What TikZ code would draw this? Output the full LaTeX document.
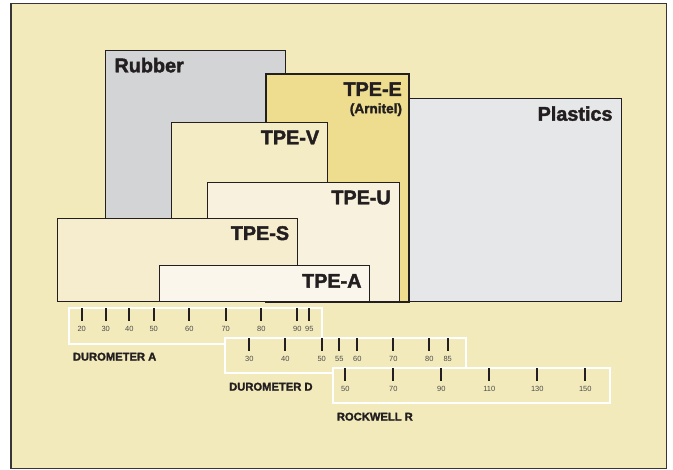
\documentclass[tikz,border=0pt]{standalone}
\usepackage{fontspec}
\setmainfont{Liberation Sans}
\newfontfamily\heavyfont{Liberation Sans Bold}[FakeBold=2]
\definecolor{bg}{HTML}{F3EABC}
\definecolor{rub}{HTML}{D3D4D6}
\definecolor{tpee}{HTML}{EEDC8F}
\definecolor{plas}{HTML}{E6E7E9}
\definecolor{tpev}{HTML}{F4ECC4}
\definecolor{tpeu}{HTML}{F7F1DD}
\definecolor{tpes}{HTML}{F5EDCD}
\definecolor{tpea}{HTML}{FAF6EB}
\definecolor{ink}{HTML}{231F20}
\definecolor{numgray}{HTML}{4A4A4A}
\tikzset{
  matbox/.style={draw=ink, line width=1pt, anchor=north west, inner sep=0pt, outer sep=0pt},
  mlabel/.style={font=\fontsize{19.8}{20}\heavyfont, anchor=base east, inner sep=0pt, text=ink},
  sublabel/.style={font=\fontsize{13.6}{14}\heavyfont, anchor=base east, inner sep=0pt, text=ink},
  scalebox/.style={draw=white, line width=2pt, fill=bg, anchor=north west, inner sep=0pt, outer sep=0pt},
  tick/.style={draw=ink, line width=2pt},
  ticknum/.style={font=\fontsize{7.5}{8}\selectfont, text=numgray, inner sep=0pt},
  scaletitle/.style={font=\fontsize{11.2}{12}\heavyfont, text=ink, anchor=west, inner sep=0pt}
}
\begin{document}
\begin{tikzpicture}[x=1pt,y=-1pt]
\useasboundingbox (0,0) rectangle (673,470);
\fill[white] (0,0) rectangle (673,470);
\draw[line width=1.6pt, draw=ink!90, fill=bg] (10.8,3.5) rectangle (666.5,468.7);
% material boxes
\node[matbox, fill=rub, minimum width=180.4pt, minimum height=251.7pt] (rubber) at (105.3,50.3) {};
\node[matbox, fill=plas, minimum width=212.4pt, minimum height=203.7pt] (plastics) at (409.3,98.3) {};
\node[matbox, fill=tpee, line width=2pt, minimum width=142.7pt, minimum height=228.3pt] (tpee) at (266.3,73.7) {};
\node[matbox, fill=tpev, minimum width=155.6pt, minimum height=179.7pt] (tpev) at (171.7,122.3) {};
\node[matbox, fill=tpeu, minimum width=192.4pt, minimum height=119.7pt] (tpeu) at (207.3,182.3) {};
\node[matbox, fill=tpes, minimum width=240pt, minimum height=83.7pt] (tpes) at (57.3,218.3) {};
\node[matbox, fill=tpea, minimum width=210.4pt, minimum height=36pt] (tpea) at (159.3,266) {};
% labels
\node[mlabel, anchor=base west] (lrubber) at ([xshift=9pt,yshift=-22pt]rubber.north west) {Rubber};
\node[mlabel] (lplastics) at ([xshift=-9pt,yshift=-22.4pt]plastics.north east) {Plastics};
\node[mlabel] (ltpee) at ([xshift=-7pt,yshift=-22.3pt]tpee.north east) {TPE-E};
\node[sublabel] (larnitel) at ([xshift=-6.8pt,yshift=-39.5pt]tpee.north east) {(Arnitel)};
\node[mlabel] (ltpev) at ([xshift=-8pt,yshift=-22pt]tpev.north east) {TPE-V};
\node[mlabel] (ltpeu) at ([xshift=-8.7pt,yshift=-22pt]tpeu.north east) {TPE-U};
\node[mlabel] (ltpes) at ([xshift=-8pt,yshift=-21.7pt]tpes.north east) {TPE-S};
\node[mlabel] (ltpea) at ([xshift=-8pt,yshift=-21.7pt]tpea.north east) {TPE-A};
% scales
\node[scalebox, minimum width=252.7pt, minimum height=35.7pt] (scaleA) at (69,308.3) {};
\foreach \v/\x in {20/81.7,30/105.7,40/129.3,50/153.7,60/189.3,70/225.7,80/261.3,90/297.3,95/309.3}{
  \draw[tick] (\x,308.3) -- (\x,320.7);
  \node[ticknum] at (\x,329) {\v};
}
\node[scaletitle] (titleA) at (72.7,356.7) {DUROMETER A};
\node[scalebox, minimum width=240.7pt, minimum height=35pt] (scaleD) at (225,338.3) {};
\foreach \v/\x in {30/249.3,40/285.3,50/321.7,55/339.3,60/357.3,70/393.3,80/429.3,85/447.7}{
  \draw[tick] (\x,338.3) -- (\x,350.7);
  \node[ticknum] at (\x,359) {\v};
}
\node[scaletitle] (titleD) at (229,386.7) {DUROMETER D};
\node[scalebox, minimum width=276.7pt, minimum height=35pt] (scaleR) at (333.3,368.3) {};
\foreach \v/\x in {50/345.3,70/393.3,90/441.3,110/489.3,130/537.3,150/585.3}{
  \draw[tick] (\x,368.3) -- (\x,380.7);
  \node[ticknum] at (\x,389) {\v};
}
\node[scaletitle] (titleR) at (336.7,416.7) {ROCKWELL R};
\end{tikzpicture}
\end{document}
